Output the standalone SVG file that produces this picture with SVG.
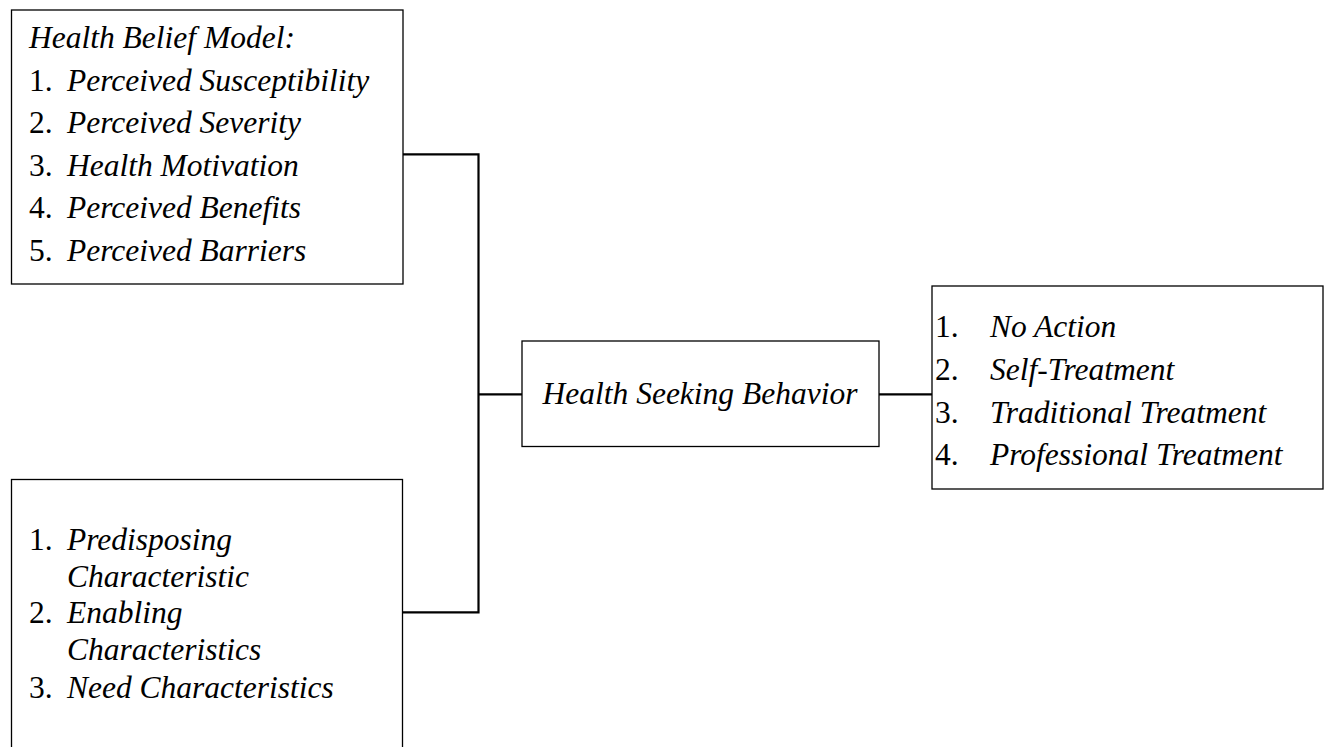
<svg xmlns="http://www.w3.org/2000/svg" width="1330" height="747" viewBox="0 0 1330 747">
<style>
.box{fill:#fff;stroke:#000;stroke-width:1.3}
.con{fill:none;stroke:#000;stroke-width:2.2}
text{font-family:"Liberation Serif","Times New Roman",serif;font-size:31.5px;fill:#000}
.i{font-style:italic}
</style>
<rect width="1330" height="747" fill="#fff"/>
<g id="connectors">
<path class="con" d="M403 154.3H478.5V612.3H403"/>
<path class="con" d="M478.5 394.3H522"/>
<path class="con" d="M879 394.3H932"/>
</g>
<g id="hbm">
<rect class="box" x="11.5" y="10" width="391.5" height="274"/>
<text x="29" y="48" class="i">Health Belief Model:</text>
<text x="29" y="91">1.</text><text x="67" y="91" class="i">Perceived Susceptibility</text>
<text x="29" y="133">2.</text><text x="67" y="133" class="i">Perceived Severity</text>
<text x="29" y="176">3.</text><text x="67" y="176" class="i">Health Motivation</text>
<text x="29" y="218">4.</text><text x="67" y="218" class="i">Perceived Benefits</text>
<text x="29" y="261">5.</text><text x="67" y="261" class="i">Perceived Barriers</text>
</g>
<g id="andersen">
<rect class="box" x="11.5" y="479.5" width="391" height="290"/>
<text x="29" y="550">1.</text><text x="67" y="550" class="i">Predisposing</text>
<text x="67" y="587" class="i">Characteristic</text>
<text x="29" y="623">2.</text><text x="67" y="623" class="i">Enabling</text>
<text x="67" y="660" class="i">Characteristics</text>
<text x="29" y="698">3.</text><text x="67" y="698" class="i">Need Characteristics</text>
</g>
<g id="hsb">
<rect class="box" x="522" y="341" width="357" height="105.5"/>
<text x="700" y="403.5" class="i" text-anchor="middle">Health Seeking Behavior</text>
</g>
<g id="outcomes">
<rect class="box" x="932" y="286" width="391" height="203"/>
<text x="935" y="337">1.</text><text x="990" y="337" class="i">No Action</text>
<text x="935" y="380">2.</text><text x="990" y="380" class="i">Self-Treatment</text>
<text x="935" y="423">3.</text><text x="990" y="423" class="i">Traditional Treatment</text>
<text x="935" y="465">4.</text><text x="990" y="465" class="i">Professional Treatment</text>
</g>
</svg>
